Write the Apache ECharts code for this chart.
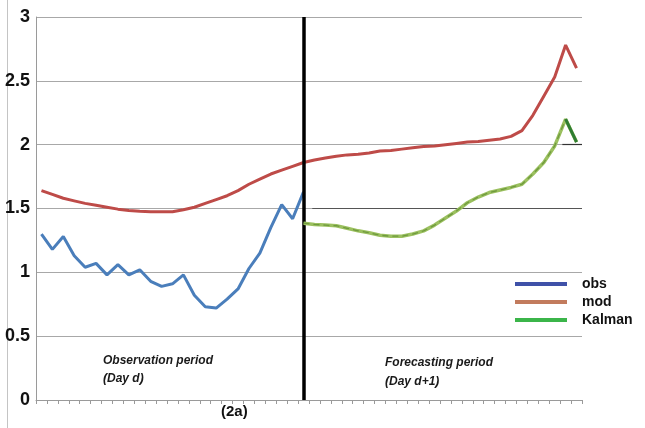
<!DOCTYPE html>
<html>
<head>
<meta charset="utf-8">
<script src="https://cdn.jsdelivr.net/npm/echarts@6/dist/echarts.min.js"></script>
<style>
  html, body { margin: 0; padding: 0; background: #fff; }
  #chart { width: 645px; height: 428px; }
</style>
</head>
<body>
<div id="chart"></div>
<script>
// Hourly values over two days: day d observed, day d+1 forecast
const hourCount = 50;
const obsStart = 0;
const kalmanStart = 24;
const splitHour = 24.5;

const obs = [1.30, 1.18, 1.28, 1.13, 1.04, 1.07, 0.98, 1.06, 0.98, 1.02,
             0.93, 0.89, 0.91, 0.98, 0.82, 0.73, 0.72, 0.79, 0.87, 1.03,
             1.15, 1.35, 1.53, 1.42, 1.63];

const mod = [1.64, 1.61, 1.58, 1.56, 1.54, 1.525, 1.51, 1.495, 1.485, 1.478,
             1.475, 1.475, 1.475, 1.49, 1.51, 1.54, 1.57, 1.60, 1.64, 1.69,
             1.73, 1.77, 1.80, 1.83, 1.86, 1.88, 1.895, 1.91, 1.92, 1.925,
             1.935, 1.95, 1.955, 1.965, 1.975, 1.985, 1.99, 2.00, 2.01, 2.02,
             2.025, 2.035, 2.045, 2.065, 2.11, 2.23, 2.38, 2.53, 2.78, 2.60];

const kalman = [1.385, 1.375, 1.37, 1.365, 1.345, 1.325, 1.31, 1.29, 1.283, 1.283,
                1.30, 1.325, 1.37, 1.425, 1.48, 1.545, 1.59, 1.625, 1.645, 1.665,
                1.69, 1.77, 1.86, 1.99, 2.20, 2.02];

const yTicks = [0, 0.5, 1, 1.5, 2, 2.5, 3];

const toPoints = (vals, start) => vals.map((v, i) => [start + i + 0.5, v]);
const kalmanPts = toPoints(kalman, kalmanStart);
// darker tail segment of the Kalman curve (last two hours)
const kalmanTail = kalmanPts.map((p, i) => (i >= kalman.length - 2 ? p : [p[0], null]));

const chart = echarts.init(document.getElementById('chart'));
const font = 'Arial, "Liberation Sans", sans-serif';

chart.setOption({
  animation: false,
  backgroundColor: '#ffffff',
  grid: { left: 36, right: 63, top: 17, bottom: 28 },
  xAxis: {
    type: 'value',
    min: 0,
    max: hourCount,
    interval: 1,
    axisLine: { show: true, lineStyle: { color: '#9a9a9a', width: 1 } },
    axisTick: { show: true, length: 4, lineStyle: { color: '#9a9a9a' } },
    axisLabel: { show: false },
    splitLine: { show: false }
  },
  yAxis: {
    type: 'value',
    min: yTicks[0],
    max: yTicks[yTicks.length - 1],
    interval: 0.5,
    axisLine: { show: true, lineStyle: { color: '#9a9a9a', width: 1 } },
    axisTick: { show: false },
    axisLabel: {
      color: '#111', fontFamily: font, fontWeight: 'bold', fontSize: 18, margin: 6
    },
    splitLine: { show: true, lineStyle: { color: '#a8a8a8', width: 1 } }
  },
  legend: {
    orient: 'vertical',
    left: 510,
    top: 272,
    itemGap: 4,
    icon: 'rect',
    itemWidth: 52,
    itemHeight: 4,
    textStyle: {
      color: '#111', fontFamily: font, fontWeight: 'bold', fontSize: 14,
      padding: [0, 0, 0, 10]
    },
    data: [
      { name: 'obs', itemStyle: { color: '#3f51a8' } },
      { name: 'mod', itemStyle: { color: '#c27b5d' } },
      { name: 'Kalman', itemStyle: { color: '#3bb54a' } }
    ]
  },
  series: [
    {
      name: 'mod',
      type: 'line',
      data: toPoints(mod, 0),
      showSymbol: false,
      lineStyle: { color: '#be4b48', width: 3 },
      itemStyle: { color: '#be4b48' },
      z: 3
    },
    {
      name: 'obs',
      type: 'line',
      data: toPoints(obs, obsStart),
      showSymbol: false,
      lineStyle: { color: '#4a7ebb', width: 3 },
      itemStyle: { color: '#4a7ebb' },
      z: 4,
      markLine: {
        silent: true,
        symbol: 'none',
        label: { show: false },
        data: [
          { xAxis: splitHour, lineStyle: { color: '#000', width: 3.5, type: 'solid' } },
          [
            { coord: [kalmanStart + 1.3, 1.5], lineStyle: { color: '#555', width: 1.2, type: 'solid' } },
            { coord: [hourCount, 1.5] }
          ],
          [
            { coord: [hourCount - 1.8, 2], lineStyle: { color: '#333', width: 1.2, type: 'solid' } },
            { coord: [hourCount, 2] }
          ]
        ]
      }
    },
    {
      name: 'Kalman',
      type: 'line',
      data: kalmanPts,
      showSymbol: false,
      lineStyle: { color: '#9bc05f', width: 3.5 },
      itemStyle: { color: '#9bc05f' },
      z: 5
    },
    {
      type: 'line',
      data: kalmanPts,
      showSymbol: false,
      silent: true,
      lineStyle: { color: '#6f9a3e', width: 1.3, type: [6, 4] },
      z: 6
    },
    {
      type: 'line',
      data: kalmanTail,
      showSymbol: false,
      silent: true,
      connectNulls: false,
      lineStyle: { color: '#2f7d32', width: 3 },
      z: 7
    }
  ],
  graphic: [
    { type: 'line', shape: { x1: 7.5, y1: 0, x2: 7.5, y2: 428 }, style: { stroke: '#c4c4c4', lineWidth: 1 } },
    { type: 'text', left: 103, top: 355, style: { text: 'Observation period', font: 'italic bold 12px ' + font, fill: '#1a1a1a' } },
    { type: 'text', left: 103, top: 373, style: { text: '(Day d)', font: 'italic bold 12px ' + font, fill: '#1a1a1a' } },
    { type: 'text', left: 385, top: 357, style: { text: 'Forecasting period', font: 'italic bold 12px ' + font, fill: '#1a1a1a' } },
    { type: 'text', left: 385, top: 376, style: { text: '(Day d+1)', font: 'italic bold 12px ' + font, fill: '#1a1a1a' } },
    { type: 'text', left: 221, top: 404, style: { text: '(2a)', font: 'bold 15px ' + font, fill: '#111' } }
  ]
});
</script>
</body>
</html>
